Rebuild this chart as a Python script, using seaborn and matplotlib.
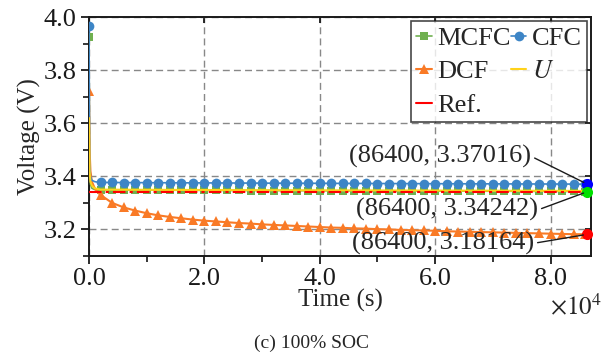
import numpy as np
import seaborn as sns
import matplotlib.pyplot as plt
from matplotlib.lines import Line2D
from matplotlib.ticker import MultipleLocator, FuncFormatter

# --- data ---
t_early = [0, 100, 250, 500, 1000, 1500]
t_grid = list(np.arange(2000, 86001, 2000))
t_end = [86400]
time_s = t_early + t_grid + t_end

cfc_v = [3.965, 3.450, 3.400, 3.385, 3.380, 3.378,
         3.3770, 3.3768, 3.3766, 3.3764, 3.3762, 3.3760, 3.3758, 3.3756, 3.3755, 3.3753,
         3.3751, 3.3749, 3.3748, 3.3746, 3.3744, 3.3743, 3.3741, 3.3740, 3.3738, 3.3737,
         3.3735, 3.3734, 3.3732, 3.3731, 3.3730, 3.3728, 3.3727, 3.3726, 3.3724, 3.3723,
         3.3722, 3.3720, 3.3719, 3.3718, 3.3717, 3.3716, 3.3714, 3.3713, 3.3712, 3.3711,
         3.3710, 3.3708, 3.3705,
         3.37016]

mcfc_v = [3.925, 3.420, 3.370, 3.355, 3.350, 3.3492,
          3.3490, 3.3488, 3.3486, 3.3484, 3.3482, 3.3480, 3.3478, 3.3476, 3.3475, 3.3473,
          3.3471, 3.3469, 3.3468, 3.3466, 3.3465, 3.3463, 3.3462, 3.3460, 3.3459, 3.3457,
          3.3456, 3.3455, 3.3453, 3.3452, 3.3451, 3.3449, 3.3448, 3.3447, 3.3446, 3.3444,
          3.3443, 3.3442, 3.3441, 3.3440, 3.3439, 3.3438, 3.3436, 3.3435, 3.3434, 3.3433,
          3.3432, 3.3430, 3.3427,
          3.34242]

dcf_v = [3.720, 3.500, 3.420, 3.380, 3.355, 3.340,
         3.330, 3.300, 3.283, 3.271, 3.261, 3.253, 3.247, 3.242, 3.237, 3.233,
         3.230, 3.227, 3.224, 3.222, 3.219, 3.217, 3.215, 3.213, 3.211, 3.209,
         3.207, 3.206, 3.204, 3.203, 3.201, 3.200, 3.198, 3.197, 3.196, 3.195,
         3.193, 3.192, 3.191, 3.190, 3.189, 3.188, 3.187, 3.186, 3.185, 3.184,
         3.183, 3.182, 3.1818,
         3.18164]

u_v = [3.620, 3.420, 3.380, 3.365, 3.355, 3.352,
       3.3500, 3.3498, 3.3496, 3.3494, 3.3492, 3.3490, 3.3489, 3.3487, 3.3486, 3.3484,
       3.3483, 3.3482, 3.3480, 3.3479, 3.3478, 3.3477, 3.3476, 3.3475, 3.3474, 3.3473,
       3.3472, 3.3471, 3.3470, 3.3469, 3.3468, 3.3467, 3.3466, 3.3465, 3.3464, 3.3463,
       3.3462, 3.3461, 3.3460, 3.3459, 3.3458, 3.3457, 3.3456, 3.3455, 3.3454, 3.3453,
       3.3452, 3.3451, 3.3450,
       3.3450]

ref_t = [0, 86400]
ref_v = [3.342, 3.342]

end_points = [(86400, 3.37016), (86400, 3.34242), (86400, 3.18164)]
end_colors = ['#0000ff', '#00e000', '#ff0000']
end_labels = ['(86400, 3.37016)', '(86400, 3.34242)', '(86400, 3.18164)']
label_pos = [(60900, 3.475), (62100, 3.274), (61400, 3.148)]

c_mcfc = '#70b050'
c_cfc = '#3d85c6'
c_dcf = '#f97a26'
c_u = '#ffd21a'
c_ref = '#ff0000'

# --- style ---
sns.set_theme(style='ticks')
plt.rcParams['font.family'] = ['Liberation Serif', 'DejaVu Serif']
plt.rcParams['mathtext.fontset'] = 'stix'

fig = plt.figure(figsize=(6.03, 3.56), dpi=100)
ax = fig.add_axes([0.1476, 0.281, 0.8324, 0.671])

mk_idx = [0] + list(range(6, 6 + len(t_grid)))

sns.lineplot(x=time_s, y=mcfc_v, ax=ax, color=c_mcfc, lw=1.2, marker='s',
             markersize=6, markeredgewidth=0, markevery=mk_idx, zorder=3)
sns.lineplot(x=time_s, y=cfc_v, ax=ax, color=c_cfc, lw=1.2, marker='o',
             markersize=7, markeredgewidth=0, markevery=mk_idx, zorder=4)
sns.lineplot(x=time_s, y=dcf_v, ax=ax, color=c_dcf, lw=1.5, marker='^',
             markersize=7.5, markeredgewidth=0, markevery=mk_idx, zorder=3)
sns.lineplot(x=time_s, y=u_v, ax=ax, color=c_u, lw=1.5, zorder=5)
sns.lineplot(x=ref_t, y=ref_v, ax=ax, color=c_ref, lw=1.5, ls=(0, (6, 2, 1.5, 2)), zorder=6)

for (px, py), col in zip(end_points, end_colors):
    ax.plot(px, py, 'o', color=col, markersize=7, clip_on=False, zorder=8)
for (px, py), lab, (tx, ty) in zip(end_points, end_labels, label_pos):
    ax.annotate(lab, xy=(px, py), xytext=(tx, ty), ha='center', va='center',
                fontsize=19, zorder=9,
                arrowprops=dict(arrowstyle='-', color='k', lw=1, relpos=(1, 0.5),
                                shrinkA=0, shrinkB=3))

ax.set_xlim(0, 87000)
ax.set_ylim(3.1, 4.0)
ax.xaxis.set_major_locator(MultipleLocator(20000))
ax.xaxis.set_minor_locator(MultipleLocator(10000))
ax.xaxis.set_major_formatter(FuncFormatter(lambda v, p: f'{v / 1e4:.1f}'))
ax.yaxis.set_major_locator(MultipleLocator(0.2))
ax.yaxis.set_minor_locator(MultipleLocator(0.1))
ax.yaxis.set_major_formatter(FuncFormatter(lambda v, p: f'{v:.1f}'))

ax.grid(True, which='major', color='#888888', ls=(0, (5, 3)), lw=1)
ax.tick_params(which='major', direction='out', length=6, width=1.3, labelsize=19,
               colors='k', pad=3)
ax.tick_params(which='minor', direction='out', length=4, width=1.3)
ax.tick_params(which='major', top=True, right=True)
for tk in ax.xaxis.get_major_ticks():
    tk.tick2line.set_marker(3)  # inward tick on the top spine
    tk.tick2line.set_markersize(4)
for tk in ax.yaxis.get_major_ticks():
    tk.tick2line.set_marker(0)  # inward tick on the right spine
    tk.tick2line.set_markersize(4)
for s in ax.spines.values():
    s.set_linewidth(1.4)
    s.set_color('k')
    s.set_visible(True)

ax.set_xlabel('Time (s)', fontsize=18, labelpad=-1)
ax.set_ylabel('Voltage (V)', fontsize=18, labelpad=2)
fig.text(0.998, 0.14, r'$\times 10^4$', ha='right', va='center', fontsize=18)
fig.text(0.517, 0.035, '(c) 100% SOC', ha='center', va='center', fontsize=14)

handles = [
    Line2D([], [], color=c_mcfc, marker='s', markersize=6, markeredgewidth=0, lw=1.2),
    Line2D([], [], color=c_dcf, marker='^', markersize=7.5, markeredgewidth=0, lw=1.5),
    Line2D([], [], color=c_ref, lw=1.5),
    Line2D([], [], color=c_cfc, marker='o', markersize=7, markeredgewidth=0, lw=1.2),
    Line2D([], [], color=c_u, lw=1.5),
]
labels = ['MCFC', 'DCF', 'Ref.', 'CFC', '$U$']
leg = ax.legend(handles, labels, ncol=2, loc='upper right', fontsize=19,
                frameon=True, fancybox=False, edgecolor='k', handlelength=0.6,
                handletextpad=0.2, columnspacing=0.0, labelspacing=0.38,
                borderpad=0.2, borderaxespad=0.15)
leg.get_frame().set_linewidth(1.2)
leg.set_zorder(10)

fig.savefig('out.png', dpi=100)
